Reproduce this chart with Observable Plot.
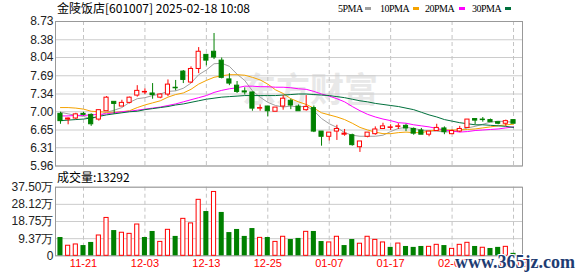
<!DOCTYPE html>
<html><head><meta charset="utf-8">
<script src="https://cdn.jsdelivr.net/npm/d3@7"></script>
<script src="https://cdn.jsdelivr.net/npm/@observablehq/plot@0.6"></script>
<style>
body{margin:0;background:#fff;}
#wrap{position:relative;width:578px;height:276px;overflow:hidden;background:#fff;font-family:"Liberation Sans",Arial,sans-serif;}
.abs{position:absolute;white-space:nowrap;}
</style></head><body>
<div id="wrap">
 <div class="abs" id="wm1" style="left:242px;top:71px;font:bold 34px/1 'Noto Sans CJK SC';color:#e8e8e8;">东方财富</div>
 <div class="abs" id="price" style="left:0;top:0"></div>
 <div class="abs" id="vol" style="left:0;top:172px"></div>
 <div class="abs" id="title" style="left:57px;top:2px;font:12px/12px 'Noto Sans CJK SC';color:#000"></div>
 <div id="legend"></div>
 <div class="abs" id="vtitle" style="left:57px;top:171px;font:12px/12px 'Noto Sans CJK SC';color:#000"></div>
 <div class="abs" id="wm2" style="left:455px;top:253px;font:bold 18px/1 'Liberation Serif';color:#1e3c72;text-shadow:1px 1px 0 #fff,-1px -1px 0 #fff,1px -1px 0 #fff,-1px 1px 0 #fff;">www.365jz.com</div>
</div>
<script>
const stockTitle = "金陵饭店[601007] 2025-02-18 10:08";
const volTitle = "成交量:13292";
const dates = ["11-18","11-19","11-20","11-21","11-22","11-25","11-26","11-27","11-28","11-29",
 "12-02","12-03","12-04","12-05","12-06","12-09","12-10","12-11","12-12","12-13",
 "12-16","12-17","12-18","12-19","12-20","12-23","12-24","12-25","12-26","12-27",
 "12-30","12-31","01-02","01-03","01-06","01-07","01-08","01-09","01-10","01-13",
 "01-14","01-15","01-16","01-17","01-20","01-21","01-22","01-23","01-24","01-27",
 "02-05","02-06","02-07","02-10","02-11","02-12","02-13","02-14","02-17","02-18"];
const open = [6.96,6.85,6.87,6.96,6.94,6.85,7.01,7.19,7.10,7.17, 7.31,7.37,7.35,7.27,7.33,7.46,7.77,7.56,7.82,8.09,
 8.15,7.98,7.62,7.50,7.39,7.37,7.06,7.10,7.00,7.10, 7.21,7.10,7.03,7.07,6.62,6.52,6.62,6.56,6.55,6.32,
 6.52,6.57,6.67,6.69,6.71,6.73,6.67,6.64,6.56,6.63, 6.68,6.57,6.62,6.69,6.86,6.85,6.84,6.80,6.77,6.84];
const high = [6.99,6.88,6.97,6.99,6.96,7.04,7.29,7.19,7.22,7.28, 7.50,7.44,7.54,7.34,7.61,7.60,7.79,7.86,8.23,8.10,
 8.50,8.03,7.73,7.58,7.46,7.38,7.13,7.10,7.08,7.31, 7.24,7.13,7.31,7.11,6.62,6.60,6.74,6.66,6.57,6.43,
 6.60,6.71,6.78,6.75,6.77,6.76,6.69,6.68,6.62,6.76, 6.71,6.65,6.72,6.85,6.86,6.89,6.86,6.80,6.84,6.84];
const low = [6.76,6.75,6.85,6.92,6.72,6.82,7.01,6.95,7.10,7.15, 7.28,7.33,7.24,7.25,7.29,7.40,7.54,7.54,7.73,7.88,
 8.00,7.63,7.50,7.35,7.32,7.01,7.01,6.90,7.00,7.03, 7.04,7.01,7.01,6.60,6.34,6.44,6.45,6.53,6.34,6.22,
 6.50,6.55,6.66,6.64,6.66,6.62,6.55,6.56,6.52,6.63, 6.56,6.56,6.60,6.68,6.75,6.80,6.80,6.75,6.72,6.77];
const close = [6.82,6.87,6.95,6.94,6.76,7.03,7.27,7.15,7.17,7.27, 7.40,7.38,7.32,7.33,7.52,7.45,7.61,7.82,8.15,7.98,
 8.04,7.65,7.54,7.38,7.37,7.06,7.07,7.01,7.08,7.25, 7.12,7.01,7.09,6.62,6.52,6.60,6.67,6.58,6.36,6.43,
 6.60,6.66,6.72,6.70,6.72,6.68,6.58,6.56,6.62,6.69, 6.61,6.63,6.67,6.85,6.83,6.84,6.80,6.77,6.82,6.77];
const closeBefore = 6.97;
// volume in 万手
const volume = [10.0,5.5,6.2,5.6,7.3,11.1,20.7,13.8,12.6,12.0, 17.1,10.0,13.3,7.6,14.2,10.6,20.2,17.7,30.6,24.2,
 34.9,23.7,12.7,14.4,10.6,14.9,9.8,10.0,7.6,10.4, 8.9,9.5,13.1,13.3,7.8,7.3,10.4,5.6,8.9,6.6,
 10.4,8.7,7.3,4.6,6.7,5.1,4.6,5.1,4.9,6.0, 5.6,3.8,6.0,7.1,5.1,4.4,4.0,4.6,4.9,1.33];
const ma5 = [6.99,6.96,6.93,6.91,6.87,6.91,6.99,7.03,7.08,7.18, 7.25,7.27,7.31,7.34,7.39,7.40,7.45,7.55,7.71,7.80,
 7.92,7.93,7.87,7.72,7.60,7.40,7.28,7.18,7.12,7.09, 7.11,7.09,7.11,7.02,6.87,6.77,6.70,6.60,6.55,6.53,
 6.53,6.53,6.55,6.62,6.68,6.70,6.68,6.65,6.63,6.63, 6.61,6.62,6.64,6.69,6.72,6.76,6.80,6.82,6.81,6.80];
const ma10 = [7.08,7.08,7.07,7.05,7.01,7.00,6.99,6.99,7.00,7.02, 7.08,7.13,7.17,7.21,7.28,7.33,7.36,7.43,7.53,7.60,
 7.66,7.69,7.71,7.71,7.70,7.66,7.61,7.53,7.42,7.35, 7.25,7.19,7.14,7.07,6.98,6.94,6.90,6.85,6.78,6.70,
 6.65,6.61,6.58,6.58,6.60,6.61,6.60,6.60,6.63,6.65, 6.65,6.65,6.65,6.66,6.67,6.69,6.71,6.73,6.75,6.76];
const ma20 = [6.92,6.92,6.93,6.93,6.94,6.95,6.96,6.98,7.00,7.01, 7.03,7.05,7.07,7.09,7.12,7.15,7.19,7.23,7.27,7.31,
 7.37,7.41,7.44,7.46,7.49,7.49,7.48,7.48,7.47,7.47, 7.46,7.44,7.43,7.39,7.34,7.30,7.25,7.19,7.10,7.02,
 6.95,6.90,6.86,6.83,6.79,6.78,6.75,6.73,6.71,6.68, 6.65,6.63,6.61,6.62,6.64,6.65,6.66,6.67,6.69,6.71];
const ma30 = [6.83,6.84,6.85,6.86,6.88,6.91,6.94,6.96,6.98,7.00, 7.01,7.04,7.06,7.08,7.10,7.13,7.15,7.18,7.21,7.24,
 7.26,7.28,7.29,7.30,7.31,7.31,7.31,7.31,7.31,7.32, 7.33,7.34,7.34,7.33,7.32,7.31,7.29,7.27,7.24,7.21,
 7.19,7.16,7.14,7.12,7.10,7.07,7.04,6.99,6.94,6.90, 6.85,6.82,6.79,6.77,6.75,6.75,6.74,6.73,6.72,6.70];
const maNames = ["5PMA","10PMA","20PMA","30PMA"];
const maColors = ["#a0a0a0","#f5a300","#ff00ff","#00703c"];
const priceTicks = [5.96,6.31,6.65,7.00,7.34,7.69,8.04,8.38,8.73];
const volTicks = [0,9.37,18.75,28.12,37.5];
const volTickLabels = ["0","9.37万","18.75万","28.12万","37.50万"];
const xTickIdx = [3,11,19,27,35,43,51,59];

const RED = "#ff0000", GREEN = "#008000";
const W = 578;
const xDomain = [-0.646, 60.17];
const rows = dates.map((d, i) => ({
  i, o: open[i], h: high[i], l: low[i], c: close[i], v: volume[i],
  up: close[i] >= open[i],
  vUp: close[i] >= (i ? close[i - 1] : closeBefore)
}));
rows.forEach(r => { r.top = Math.max(r.o, r.c); r.bot = Math.min(r.o, r.c); });
const ups = rows.filter(r => r.up), downs = rows.filter(r => !r.up);
const mas = [ma5, ma10, ma20, ma30];

const price = Plot.plot({
  width: W, height: 172,
  marginLeft: 55, marginRight: 56, marginTop: 21, marginBottom: 6.5,
  style: {background: "transparent", fontFamily: "Liberation Sans", fontSize: "12px", overflow: "visible"},
  x: {domain: xDomain, axis: null},
  y: {domain: [5.96, 8.73], axis: null},
  marks: [
    Plot.ruleY(priceTicks, {stroke: "#cccccc", strokeOpacity: 1}),
    Plot.ruleX(xTickIdx, {stroke: "#c4c4c4", strokeOpacity: 1, strokeDasharray: "4,3"}),
    Plot.frame({stroke: "#999999"}),
    Plot.text(priceTicks, {y: d => d, text: d => d3.format(".2f")(d), frameAnchor: "left", textAnchor: "end", dx: -2, fill: "#222", fontSize: 12}),
    ...mas.map((m, k) => Plot.lineY(m, {x: (d, i) => i, y: d => d, stroke: maColors[k], strokeWidth: 1})),
    Plot.ruleX(rows, {x: "i", y1: "h", y2: "top", stroke: d => d.up ? RED : GREEN}),
    Plot.ruleX(rows, {x: "i", y1: "bot", y2: "l", stroke: d => d.up ? RED : GREEN}),
    Plot.rect(ups, {x1: d => d.i - 0.27, x2: d => d.i + 0.27, y1: "o", y2: "c", fill: "white", stroke: RED}),
    Plot.rect(downs, {x1: d => d.i - 0.27, x2: d => d.i + 0.27, y1: "o", y2: "c", fill: GREEN, stroke: GREEN})
  ]
});
document.getElementById("price").appendChild(price);

const vol = Plot.plot({
  width: W, height: 104,
  marginLeft: 55, marginRight: 56, marginTop: 14.7, marginBottom: 20.7,
  style: {background: "transparent", fontFamily: "Liberation Sans", fontSize: "12px", overflow: "visible"},
  x: {domain: xDomain, axis: null},
  y: {domain: [0, 37.5], axis: null},
  marks: [
    Plot.ruleY(volTicks, {stroke: "#cccccc", strokeOpacity: 1}),
    Plot.ruleX(xTickIdx, {stroke: "#c4c4c4", strokeOpacity: 1, strokeDasharray: "4,3"}),
    Plot.frame({stroke: "#999999"}),
    Plot.rect(rows.filter(r => !r.vUp), {x1: d => d.i - 0.33, x2: d => d.i + 0.33, y1: 0, y2: "v", fill: GREEN}),
    Plot.rect(rows.filter(r => r.vUp), {x1: d => d.i - 0.27, x2: d => d.i + 0.27, y1: 0, y2: "v", fill: "white", stroke: RED}),
    Plot.text(volTicks, {y: d => d, text: (d, i) => volTickLabels[i], frameAnchor: "left", textAnchor: "end", dx: -2, fill: "#222", fontSize: 12}),
    Plot.text(xTickIdx, {x: d => d, text: d => dates[d], frameAnchor: "bottom", dy: 11, fill: RED, fontSize: 11})
  ]
});
document.getElementById("vol").appendChild(vol);

document.getElementById("title").textContent = stockTitle;
document.getElementById("vtitle").textContent = volTitle;
const legendPos = [[338, 365], [380, 413], [425, 459], [472, 505]];
const lg = document.getElementById("legend");
maNames.forEach((n, k) => {
  const t = document.createElement("div");
  t.className = "abs";
  t.style.cssText = `left:${legendPos[k][0]}px;top:4px;font:10px/10px 'Liberation Serif';letter-spacing:-0.5px;color:#000`;
  t.textContent = n;
  lg.appendChild(t);
  const s = document.createElement("div");
  s.className = "abs";
  s.style.cssText = `left:${legendPos[k][1]}px;top:7px;width:6px;height:3px;background:${maColors[k]}`;
  lg.appendChild(s);
});
</script>
</body></html>
